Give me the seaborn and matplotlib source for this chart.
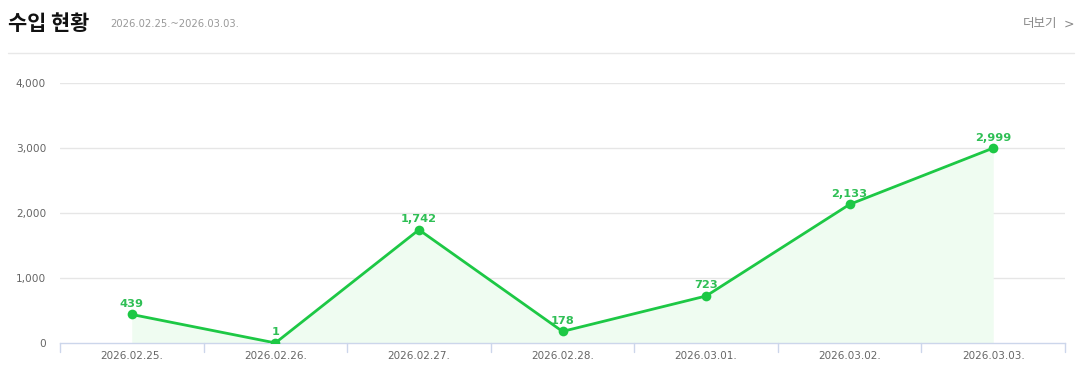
import matplotlib
matplotlib.use("Agg")
import matplotlib.pyplot as plt
import seaborn as sns
import pandas as pd
import numpy as np

dates = ["2026.02.25.", "2026.02.26.", "2026.02.27.", "2026.02.28.",
         "2026.03.01.", "2026.03.02.", "2026.03.03."]
values = [439, 1, 1742, 178, 723, 2133, 2999]
y_ticks = [0, 1000, 2000, 3000, 4000]
title = "수입 현황"
period = "2026.02.25.~2026.03.03."
more = "더보기"

sns.set_theme(style="white")
plt.rcParams['font.family'] = ['Noto Sans CJK KR', 'DejaVu Sans']

GREEN = "#1dc845"
FILL = "#effcf1"
GRID = "#e6e6e6"
AXIS = "#ccd6eb"
TXT = "#666666"

df = pd.DataFrame({"idx": np.arange(len(dates)), "value": values})

fig = plt.figure(figsize=(10.91, 3.87), dpi=100)
ax = fig.add_axes([60/1091, 1 - 343/387, (1065-60)/1091, (343-83)/387])

ax.fill_between(df["idx"], df["value"], 0, color=FILL, linewidth=0, zorder=1)
sns.lineplot(data=df, x="idx", y="value", ax=ax, color=GREEN, linewidth=2,
             marker="o", markersize=7, markeredgewidth=0, zorder=3)

for i, v in enumerate(values):
    ax.annotate(f"{v:,}", (i, v), xytext=(0, 4), textcoords="offset points",
                ha="center", va="bottom", color="#2fbf55", fontsize=8.2,
                fontweight="bold", family=['DejaVu Sans'], zorder=4)

ax.set_xlim(-0.5, len(dates) - 0.5)
ax.set_ylim(0, 4000)
ax.set_yticks(y_ticks)
ax.set_yticklabels([f"{t:,}" for t in y_ticks], color=TXT, fontsize=7.6,
                   family=['DejaVu Sans'])
ax.set_xticks(np.arange(len(dates)))
ax.set_xticklabels(dates, color=TXT, fontsize=7.5, family=['DejaVu Sans'])
ax.tick_params(axis="x", length=0, pad=6)
ax.tick_params(axis="y", length=0, pad=10)
ax.set_xlabel("")
ax.set_ylabel("")

for t in y_ticks[1:]:
    ax.axhline(t, color=GRID, linewidth=1, zorder=0)

for s in ["top", "right", "left"]:
    ax.spines[s].set_visible(False)
ax.spines["bottom"].set_color(AXIS)
ax.spines["bottom"].set_linewidth(1)

# category boundary ticks
for b in np.arange(-0.5, len(dates), 1.0):
    ax.plot([b, b], [0, -0.035], transform=ax.get_xaxis_transform(),
            color=AXIS, linewidth=1, clip_on=False)

# header
fig.text(8/1091, 1 - 24/387, title, fontsize=15, fontweight="bold",
         color="#111111", va="center", ha="left")
fig.text(110/1091, 1 - 24/387, period, fontsize=7.2, color="#999999",
         va="center", ha="left", family=['DejaVu Sans'])
fig.text(1057/1091, 1 - 24/387, more, fontsize=9, color="#888888",
         va="center", ha="right")
fig.text(1069/1091, 1 - 24/387, ">", fontsize=9, color="#888888",
         va="center", ha="center", family=['DejaVu Sans'])
fig.add_artist(plt.Line2D([8/1091, 1074/1091], [1 - 53/387, 1 - 53/387],
                          color="#e8e8e8", linewidth=1))

fig.savefig("out.png", dpi=100)
